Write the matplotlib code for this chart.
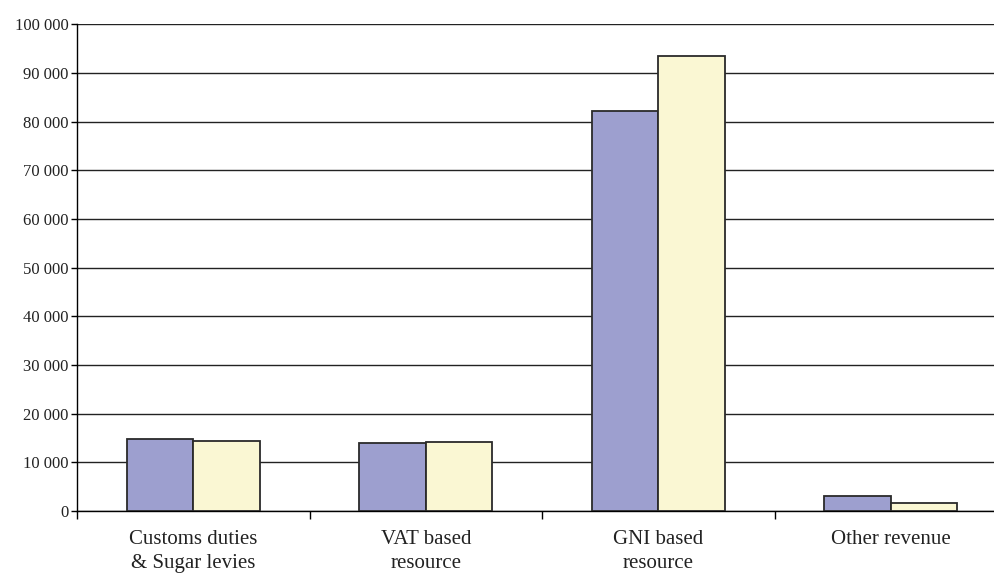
import matplotlib
matplotlib.use("Agg")
import matplotlib.pyplot as plt
import numpy as np
from matplotlib.ticker import FuncFormatter, FixedLocator

categories = ["Customs duties\n& Sugar levies", "VAT based\nresource",
              "GNI based\nresource", "Other revenue"]
series_a = [14700, 13900, 82200, 3000]
series_b = [14400, 14200, 93600, 1700]
y_ticks = list(range(0, 100001, 10000))

color_a = "#9d9fcf"
color_b = "#faf7d3"
edge = "#2a2a2a"

plt.rcParams["font.family"] = ["Liberation Serif", "DejaVu Serif"]

fig = plt.figure(figsize=(9.95, 5.77), dpi=100)
ax = fig.add_axes([0.0774, 0.1144, 0.9347, 0.8432])

x = np.arange(len(categories))
w = 0.2867
ax.bar(x - w / 2, series_a, w, color=color_a, edgecolor=edge, linewidth=1.3, zorder=3)
ax.bar(x + w / 2, series_b, w, color=color_b, edgecolor=edge, linewidth=1.3, zorder=3)

ax.set_xlim(-0.5, len(categories) - 0.5)
ax.set_ylim(0, 100000)
ax.set_yticks(y_ticks)
ax.yaxis.set_major_formatter(FuncFormatter(lambda v, p: "{:,}".format(int(v)).replace(",", " ")))
ax.yaxis.grid(True, color="#222222", linewidth=1.0, zorder=0)

# category labels centred, ticks at the boundaries
ax.set_xticks(x)
ax.set_xticklabels(categories, fontsize=15, color="#222222", linespacing=1.32)
ax.tick_params(axis="x", which="major", length=0, pad=14)
ax.xaxis.set_minor_locator(FixedLocator(np.arange(-0.5, len(categories), 1.0)))
ax.tick_params(axis="x", which="minor", length=6, width=1, direction="out")
ax.tick_params(axis="y", length=4, width=1, labelsize=12, labelcolor="#222222", pad=2)

for s in ["top", "right"]:
    ax.spines[s].set_visible(False)
ax.spines["left"].set_linewidth(1.0)
ax.spines["bottom"].set_linewidth(1.0)

fig.savefig("out.png", dpi=100)
